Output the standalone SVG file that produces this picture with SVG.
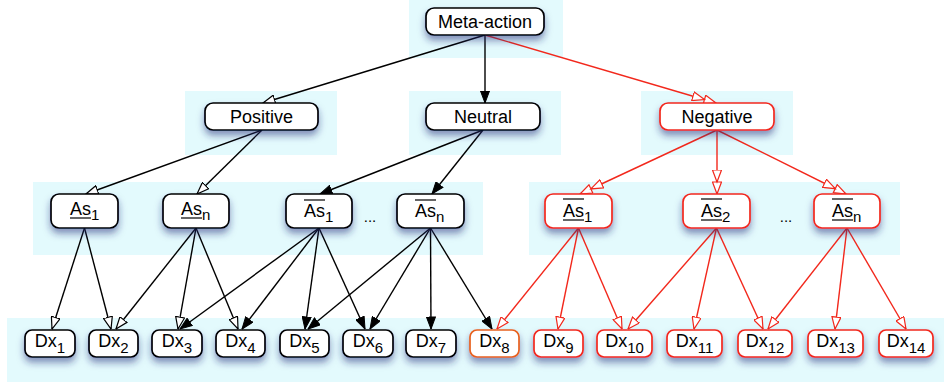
<svg xmlns="http://www.w3.org/2000/svg" width="944" height="385" viewBox="0 0 944 385">
  <defs>
    <filter id="shadow" x="-20%" y="-30%" width="140%" height="190%">
      <feDropShadow dx="0" dy="5" stdDeviation="3.5" flood-color="#1c2a78" flood-opacity="0.5"/>
    </filter>
    <marker id="openBlack" viewBox="0 0 13 10" refX="12.5" refY="5" markerWidth="13" markerHeight="10" markerUnits="userSpaceOnUse" orient="auto">
      <path d="M0.5,0.5 L12.5,5 L0.5,9.5 z" fill="#fff" stroke="#000" stroke-width="1.2"/>
    </marker>
    <marker id="fillBlack" viewBox="0 0 13 10" refX="12.5" refY="5" markerWidth="13" markerHeight="10" markerUnits="userSpaceOnUse" orient="auto">
      <path d="M0.5,0.5 L12.5,5 L0.5,9.5 z" fill="#000" stroke="#000" stroke-width="1"/>
    </marker>
    <marker id="openRed" viewBox="0 0 13 10" refX="12.5" refY="5" markerWidth="13" markerHeight="10" markerUnits="userSpaceOnUse" orient="auto">
      <path d="M0.5,0.5 L12.5,5 L0.5,9.5 z" fill="#fff" stroke="#f2281c" stroke-width="1.2"/>
    </marker>
    <marker id="doubleRed" viewBox="0 0 25 10" refX="24.5" refY="5" markerWidth="25" markerHeight="10" markerUnits="userSpaceOnUse" orient="auto">
      <path d="M0.5,0.5 L12.5,5 L0.5,9.5 z M12.5,0.5 L24.5,5 L12.5,9.5 z" fill="#fff" stroke="#f2281c" stroke-width="1.2"/>
    </marker>
  </defs>
  <style>
    .panel { fill: #e3fafd; }
    .box { fill: #fff; stroke: #000; stroke-width: 1.7; filter: url(#shadow); }
    .box.red { stroke: #f2281c; }
    .box.orange { stroke: #e8601c; }
    .lbl { font-family: "Liberation Sans", Arial, sans-serif; font-size: 18px; fill: #000; }
    .sub { font-size: 15px; }
    .bar { stroke: #333; stroke-width: 1.5; }
    .dots { font-family: "Liberation Sans", Arial, sans-serif; font-size: 15px; fill: #000; }
    .blk { stroke: #000; stroke-width: 1.4; fill: none; }
    .ln-red { stroke: #f2281c; stroke-width: 1.4; fill: none; }
  </style>

  <!-- background bands -->
  <g id="bands">
    <rect class="panel" x="409" y="0" width="154" height="58"/>
    <rect class="panel" x="185" y="91" width="152" height="64"/>
    <rect class="panel" x="409" y="91" width="152" height="64"/>
    <rect class="panel" x="641" y="91" width="152" height="64"/>
    <rect class="panel" x="33" y="182" width="450" height="73"/>
    <rect class="panel" x="529" y="182" width="371" height="73"/>
    <rect class="panel" x="7" y="318" width="937" height="64"/>
  </g>

  <!-- connectors -->
  <g id="connectors">
    <line class="blk" x1="485" y1="35" x2="263" y2="103" marker-end="url(#openBlack)"/>
    <line class="blk" x1="485" y1="35" x2="485" y2="103" marker-end="url(#fillBlack)"/>
    <line class="ln-red" x1="485" y1="35" x2="716" y2="103" marker-end="url(#doubleRed)"/>

    <line class="blk" x1="262" y1="130" x2="86" y2="194" marker-end="url(#openBlack)"/>
    <line class="blk" x1="262" y1="130" x2="197" y2="194" marker-end="url(#openBlack)"/>
    <line class="blk" x1="483" y1="130" x2="320" y2="194" marker-end="url(#fillBlack)"/>
    <line class="blk" x1="483" y1="130" x2="432" y2="194" marker-end="url(#fillBlack)"/>
    <line class="ln-red" x1="717" y1="130" x2="580" y2="194" marker-end="url(#doubleRed)"/>
    <line class="ln-red" x1="717" y1="130" x2="717" y2="194" marker-end="url(#doubleRed)"/>
    <line class="ln-red" x1="717" y1="130" x2="846" y2="194" marker-end="url(#doubleRed)"/>

    <line class="blk" x1="84.5" y1="228" x2="52" y2="329" marker-end="url(#openBlack)"/>
    <line class="blk" x1="84.5" y1="228" x2="111" y2="329" marker-end="url(#openBlack)"/>
    <line class="blk" x1="196" y1="228" x2="116" y2="329" marker-end="url(#openBlack)"/>
    <line class="blk" x1="196" y1="228" x2="178" y2="329" marker-end="url(#openBlack)"/>
    <line class="blk" x1="196" y1="228" x2="238" y2="329" marker-end="url(#openBlack)"/>

    <line class="blk" x1="319" y1="228" x2="180" y2="329" marker-end="url(#fillBlack)"/>
    <line class="blk" x1="319" y1="228" x2="242" y2="329" marker-end="url(#fillBlack)"/>
    <line class="blk" x1="319" y1="228" x2="305" y2="329" marker-end="url(#fillBlack)"/>
    <line class="blk" x1="319" y1="228" x2="365" y2="329" marker-end="url(#fillBlack)"/>
    <line class="blk" x1="430.5" y1="228" x2="308" y2="329" marker-end="url(#fillBlack)"/>
    <line class="blk" x1="430.5" y1="228" x2="370" y2="329" marker-end="url(#fillBlack)"/>
    <line class="blk" x1="430.5" y1="228" x2="431" y2="329" marker-end="url(#fillBlack)"/>
    <line class="blk" x1="430.5" y1="228" x2="492" y2="329" marker-end="url(#fillBlack)"/>

    <line class="ln-red" x1="578.5" y1="228" x2="497" y2="329" marker-end="url(#openRed)"/>
    <line class="ln-red" x1="578.5" y1="228" x2="558" y2="329" marker-end="url(#openRed)"/>
    <line class="ln-red" x1="578.5" y1="228" x2="622" y2="329" marker-end="url(#openRed)"/>
    <line class="ln-red" x1="716.5" y1="228" x2="628" y2="329" marker-end="url(#openRed)"/>
    <line class="ln-red" x1="716.5" y1="228" x2="694" y2="329" marker-end="url(#openRed)"/>
    <line class="ln-red" x1="716.5" y1="228" x2="763" y2="329" marker-end="url(#openRed)"/>
    <line class="ln-red" x1="847" y1="228" x2="768" y2="329" marker-end="url(#openRed)"/>
    <line class="ln-red" x1="847" y1="228" x2="835" y2="329" marker-end="url(#openRed)"/>
    <line class="ln-red" x1="847" y1="228" x2="906" y2="329" marker-end="url(#openRed)"/>
  </g>

  <!-- top level -->
  <g id="meta-action">
    <rect class="box" x="426" y="8" width="118" height="27" rx="8"/>
    <text class="lbl" x="485" y="28" text-anchor="middle">Meta-action</text>
  </g>

  <!-- second level -->
  <g id="positive">
    <rect class="box" x="205" y="103" width="113" height="27" rx="8"/>
    <text class="lbl" x="261.5" y="123" text-anchor="middle">Positive</text>
  </g>
  <g id="neutral">
    <rect class="box" x="426" y="103" width="114" height="27" rx="8"/>
    <text class="lbl" x="483" y="123" text-anchor="middle">Neutral</text>
  </g>
  <g id="negative">
    <rect class="box red" x="660" y="103" width="114" height="27" rx="8"/>
    <text class="lbl" x="717" y="123" text-anchor="middle">Negative</text>
  </g>

  <!-- third level -->
  <g id="as-1">
    <rect class="box" x="51" y="194" width="67" height="34" rx="8"/>
    <text class="lbl" x="70" y="215">As<tspan class="sub" dy="5">1</tspan></text>
    <line class="bar" x1="70" y1="218" x2="91" y2="218"/>
  </g>
  <g id="as-n">
    <rect class="box" x="163" y="194" width="66" height="34" rx="8"/>
    <text class="lbl" x="181" y="215">As<tspan class="sub" dy="5">n</tspan></text>
    <line class="bar" x1="181" y1="218" x2="202" y2="218"/>
  </g>
  <g id="as-bar-1">
    <rect class="box" x="286" y="194" width="66" height="34" rx="8"/>
    <text class="lbl" x="304" y="217">As<tspan class="sub" dy="5">1</tspan></text>
    <line class="bar" x1="304" y1="200" x2="325" y2="200"/>
  </g>
  <g id="as-bar-n">
    <rect class="box" x="397" y="194" width="67" height="34" rx="8"/>
    <text class="lbl" x="415" y="217">As<tspan class="sub" dy="5">n</tspan></text>
    <line class="bar" x1="415" y1="200" x2="436" y2="200"/>
  </g>
  <text class="dots" x="370" y="222" text-anchor="middle">...</text>

  <g id="neg-as-1">
    <rect class="box red" x="545" y="194" width="67" height="34" rx="8"/>
    <text class="lbl" x="563" y="217">As<tspan class="sub" dy="5">1</tspan></text>
    <line class="bar" x1="563" y1="199" x2="584" y2="199"/>
    <line class="bar" x1="563" y1="220" x2="584" y2="220"/>
  </g>
  <g id="neg-as-2">
    <rect class="box red" x="683" y="194" width="67" height="34" rx="8"/>
    <text class="lbl" x="701" y="217">As<tspan class="sub" dy="5">2</tspan></text>
    <line class="bar" x1="701" y1="199" x2="722" y2="199"/>
    <line class="bar" x1="701" y1="220" x2="722" y2="220"/>
  </g>
  <g id="neg-as-n">
    <rect class="box red" x="814" y="194" width="66" height="34" rx="8"/>
    <text class="lbl" x="832" y="217">As<tspan class="sub" dy="5">n</tspan></text>
    <line class="bar" x1="832" y1="199" x2="853" y2="199"/>
    <line class="bar" x1="832" y1="220" x2="853" y2="220"/>
  </g>
  <text class="dots" x="786" y="222" text-anchor="middle">...</text>

  <!-- leaf level -->
  <g id="dx-1"><rect class="box" x="25" y="330" width="50" height="27" rx="7"/><text class="lbl" x="50" y="347" text-anchor="middle">Dx<tspan class="sub" dy="6">1</tspan></text></g>
  <g id="dx-2"><rect class="box" x="89" y="330" width="49" height="27" rx="7"/><text class="lbl" x="113.5" y="347" text-anchor="middle">Dx<tspan class="sub" dy="6">2</tspan></text></g>
  <g id="dx-3"><rect class="box" x="152" y="330" width="50" height="27" rx="7"/><text class="lbl" x="177" y="347" text-anchor="middle">Dx<tspan class="sub" dy="6">3</tspan></text></g>
  <g id="dx-4"><rect class="box" x="216" y="330" width="49" height="27" rx="7"/><text class="lbl" x="240.5" y="347" text-anchor="middle">Dx<tspan class="sub" dy="6">4</tspan></text></g>
  <g id="dx-5"><rect class="box" x="280" y="330" width="49" height="27" rx="7"/><text class="lbl" x="304.5" y="347" text-anchor="middle">Dx<tspan class="sub" dy="6">5</tspan></text></g>
  <g id="dx-6"><rect class="box" x="343" y="330" width="50" height="27" rx="7"/><text class="lbl" x="368" y="347" text-anchor="middle">Dx<tspan class="sub" dy="6">6</tspan></text></g>
  <g id="dx-7"><rect class="box" x="406" y="330" width="50" height="27" rx="7"/><text class="lbl" x="431" y="347" text-anchor="middle">Dx<tspan class="sub" dy="6">7</tspan></text></g>
  <g id="dx-8"><rect class="box orange" x="470" y="330" width="49" height="27" rx="7"/><text class="lbl" x="494.5" y="347" text-anchor="middle">Dx<tspan class="sub" dy="6">8</tspan></text></g>
  <g id="dx-9"><rect class="box red" x="534" y="330" width="49" height="27" rx="7"/><text class="lbl" x="558.5" y="347" text-anchor="middle">Dx<tspan class="sub" dy="6">9</tspan></text></g>
  <g id="dx-10"><rect class="box red" x="597" y="330" width="55" height="27" rx="7"/><text class="lbl" x="624.5" y="347" text-anchor="middle">Dx<tspan class="sub" dy="6">10</tspan></text></g>
  <g id="dx-11"><rect class="box red" x="667" y="330" width="55" height="27" rx="7"/><text class="lbl" x="694.5" y="347" text-anchor="middle">Dx<tspan class="sub" dy="6">11</tspan></text></g>
  <g id="dx-12"><rect class="box red" x="738" y="330" width="54" height="27" rx="7"/><text class="lbl" x="765" y="347" text-anchor="middle">Dx<tspan class="sub" dy="6">12</tspan></text></g>
  <g id="dx-13"><rect class="box red" x="808" y="330" width="55" height="27" rx="7"/><text class="lbl" x="835.5" y="347" text-anchor="middle">Dx<tspan class="sub" dy="6">13</tspan></text></g>
  <g id="dx-14"><rect class="box red" x="879" y="330" width="54" height="27" rx="7"/><text class="lbl" x="906" y="347" text-anchor="middle">Dx<tspan class="sub" dy="6">14</tspan></text></g>
</svg>
